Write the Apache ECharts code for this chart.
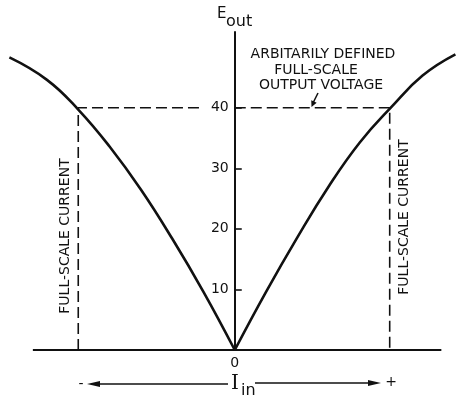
<!DOCTYPE html>
<html>
<head>
<meta charset="utf-8">
<script src="https://cdn.jsdelivr.net/npm/echarts@6/dist/echarts.min.js"></script>
<style>
  html, body { margin: 0; padding: 0; background: #fff; }
  #main { width: 456px; height: 397px; }
</style>
</head>
<body>
<div id="main"></div>
<script>
// E_out against I_in (I in units of full-scale current)
var leftBranch = [[-1.44, 48.3], [-1.2, 44.6], [-1.0, 39.7], [-0.8, 33.6], [-0.6, 26.5], [-0.4, 18.4], [-0.2, 9.6], [0, 0]];
var rightBranch = [[0, 0], [0.2, 9.6], [0.4, 18.6], [0.6, 27.0], [0.8, 34.3], [1.0, 40.1], [1.2, 45.3], [1.41, 48.8]];
var yTicks = [10, 20, 30, 40];
var xTicks = [0];
var fullScaleI = [-1.0, 0.99];
var fullScaleE = 40;
var baseRange = [-1.29, 1.32];
var noteLines = ['ARBITARILY DEFINED', 'FULL-SCALE', 'OUTPUT VOLTAGE'];
var sideLabel = 'FULL-SCALE CURRENT';

var ink = '#111';
var font = 'DejaVu Sans';
var xMin = -1.5, xMax = 1.42, gridW = 457;
// y axis sits on I = 0
var yOffset = -(0 - xMin) / (xMax - xMin) * gridW;

function dashed(data) {
  return {
    type: 'line',
    data: data,
    symbol: 'none',
    silent: true,
    lineStyle: { color: ink, width: 1.6, type: [11, 5] }
  };
}

function curve(data) {
  return {
    type: 'line',
    data: data,
    symbol: 'none',
    smooth: 0.45,
    lineStyle: { color: ink, width: 2.6 }
  };
}

function txt(text, x, y, size, align, rot, fam) {
  return {
    type: 'text',
    x: x,
    y: y,
    rotation: rot || 0,
    style: {
      text: text,
      fill: ink,
      font: size + 'px "' + (fam || font) + '"',
      textAlign: align || 'center',
      textVerticalAlign: 'middle'
    }
  };
}

function arrowHead(tx, ty, dx, dy, len, half) {
  var n = Math.sqrt(dx * dx + dy * dy);
  var ux = dx / n, uy = dy / n;
  var bx = tx - ux * len, by = ty - uy * len;
  return {
    type: 'polygon',
    shape: { points: [[tx, ty], [bx - uy * half, by + ux * half], [bx + uy * half, by - ux * half]] },
    style: { fill: ink }
  };
}

var option = {
  animation: false,
  backgroundColor: '#fff',
  grid: { left: 0, top: 32, width: gridW, bottom: 47, outerBoundsMode: 'none' },
  xAxis: {
    type: 'value',
    min: xMin,
    max: xMax,
    axisLine: { show: false },
    axisTick: { show: false },
    splitLine: { show: false },
    axisLabel: { customValues: xTicks, margin: 6, fontSize: 14, fontFamily: font, color: ink }
  },
  yAxis: {
    type: 'value',
    position: 'left',
    offset: yOffset,
    min: 0,
    max: 52.5,
    axisLine: { show: true, onZero: false, lineStyle: { color: ink, width: 2 } },
    axisTick: { show: true, inside: true, length: 7, customValues: yTicks, lineStyle: { color: ink, width: 1.6 } },
    splitLine: { show: false },
    axisLabel: { customValues: yTicks, margin: 6, fontSize: 14, fontFamily: font, color: ink }
  },
  series: [
    {
      type: 'line',
      data: [[baseRange[0], 0], [baseRange[1], 0]],
      symbol: 'none',
      silent: true,
      lineStyle: { color: ink, width: 2 }
    },
    dashed([[fullScaleI[0], 0], [fullScaleI[0], fullScaleE], [-0.2, fullScaleE]]),
    dashed([[0, fullScaleE], [fullScaleI[1], fullScaleE], [fullScaleI[1], 0]]),
    curve(leftBranch),
    curve(rightBranch)
  ],
  graphic: [
    txt('E', 217, 14, 15, 'left'),
    txt('out', 226, 22, 16, 'left'),
    txt(noteLines[0], 323, 54, 14),
    txt(noteLines[1], 316, 70, 14),
    txt(noteLines[2], 321, 85, 14),
    { type: 'line', shape: { x1: 318, y1: 93, x2: 313, y2: 103 }, style: { stroke: ink, lineWidth: 1.5 } },
    arrowHead(311.5, 107, -5, 11, 6, 3),
    txt(sideLabel, 65, 236, 14, 'center', Math.PI / 2),
    txt(sideLabel, 404, 217, 14, 'center', Math.PI / 2),
    txt('I', 235, 384, 20, 'center', 0, 'DejaVu Serif'),
    txt('in', 241, 391, 16, 'left'),
    { type: 'line', shape: { x1: 228, y1: 384, x2: 96, y2: 384 }, style: { stroke: ink, lineWidth: 1.5 } },
    arrowHead(87, 384, -1, 0, 13, 3),
    txt('-', 81, 384, 14),
    { type: 'line', shape: { x1: 255, y1: 383, x2: 372, y2: 383 }, style: { stroke: ink, lineWidth: 1.5 } },
    arrowHead(381, 383, 1, 0, 13, 3),
    txt('+', 391, 382, 14)
  ]
};

var chart = echarts.init(document.getElementById('main'));
chart.setOption(option);
window.addEventListener('resize', function () { chart.resize(); });
</script>
</body>
</html>
